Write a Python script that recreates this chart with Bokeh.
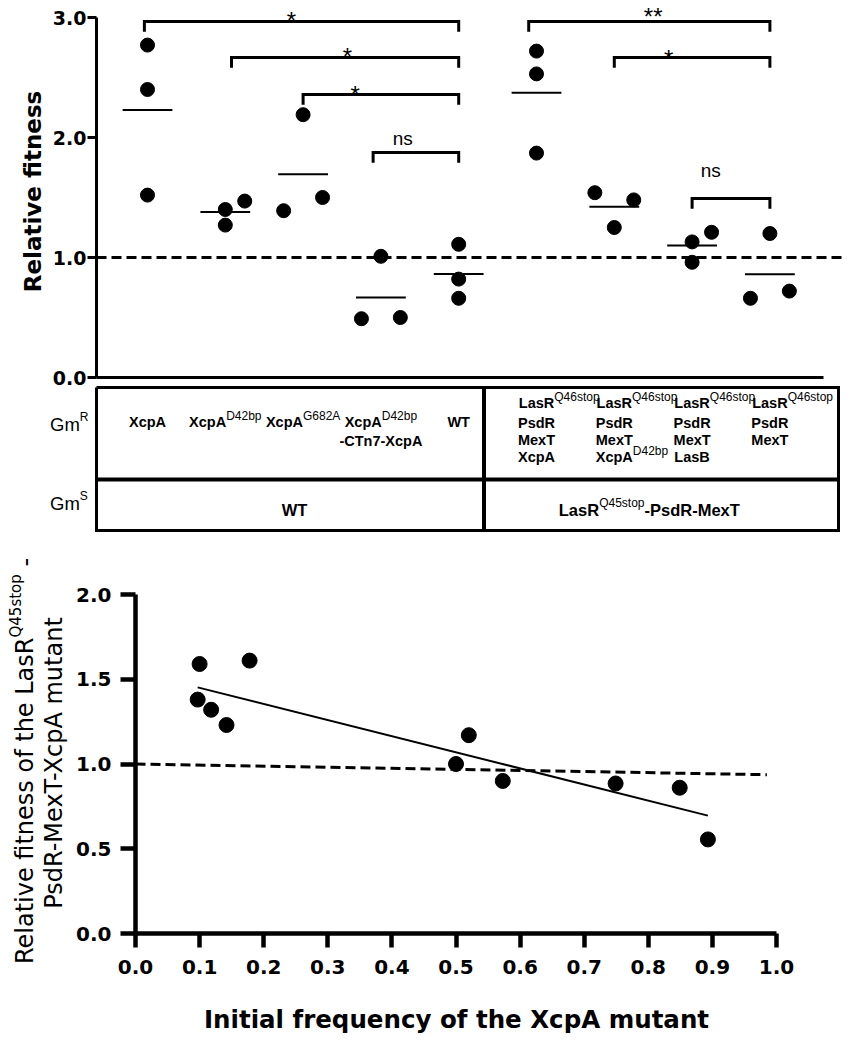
import numpy as np
from bokeh.plotting import figure
from bokeh.models import Range1d, LinearAxis, FixedTicker, NumeralTickFormatter
from bokeh.layouts import column
from bokeh.embed import file_html
from bokeh.resources import INLINE
from bokeh.core.properties import value

# ------------------------------------------------------------------
# Panel A data: relative fitness, three replicates per competition
# ------------------------------------------------------------------
group_ids = [1, 2, 3, 4, 5, 6, 7, 8, 9]
group_values = [
    [2.77, 2.40, 1.52],
    [1.40, 1.27, 1.47],
    [1.39, 2.19, 1.50],
    [0.49, 1.01, 0.50],
    [1.11, 0.82, 0.66],
    [2.72, 2.53, 1.87],
    [1.54, 1.25, 1.48],
    [1.13, 0.96, 1.21],
    [0.66, 1.20, 0.72],
]
# horizontal scatter offsets of the replicate dots (in group units)
group_jitter = [
    [0, 0, 0],
    [0, 0, 0.25],
    [-0.25, 0, 0.25],
    [-0.25, 0, 0.25],
    [0, 0, 0],
    [0, 0, 0],
    [-0.25, 0, 0.25],
    [0, 0, 0.25],
    [-0.25, 0, 0.25],
]
# significance brackets: (from, to, bracket level, label, label x, label baseline)
comparisons = [
    (0.96, 5.0, 2.967, "*", 2.85, 2.902),
    (2.08, 5.0, 2.667, "*", 3.57, 2.602),
    (3.00, 5.0, 2.358, "*", 3.67, 2.288),
    (3.90, 5.0, 1.875, "ns", 4.28, 1.933),
    (5.90, 9.0, 2.967, "**", 7.50, 2.935),
    (7.00, 9.0, 2.667, "*", 7.70, 2.593),
    (8.00, 9.0, 1.492, "ns", 8.24, 1.667),
]
y_ticks_A = [0, 1, 2, 3]
neutral_fitness = 1.0

# table under panel A ({...} marks a superscript)
gmr_left = [
    ["XcpA"],
    ["XcpA{D42bp}"],
    ["XcpA{G682A}"],
    ["XcpA{D42bp}", "-CTn7-XcpA"],
    ["WT"],
]
gmr_right = [
    ["LasR{Q46stop}", "PsdR", "MexT", "XcpA"],
    ["LasR{Q46stop}", "PsdR", "MexT", "XcpA{D42bp}"],
    ["LasR{Q46stop}", "PsdR", "MexT", "LasB"],
    ["LasR{Q46stop}", "PsdR", "MexT"],
]
gms_labels = ["WT", "LasR{Q45stop}-PsdR-MexT"]
gms_label_pos = [2.89, 7.45]
row_names = ["Gm{R}", "Gm{S}"]

# ------------------------------------------------------------------
# Panel B data
# ------------------------------------------------------------------
initial_freq = [0.097, 0.100, 0.118, 0.142, 0.178, 0.500, 0.520, 0.573, 0.749, 0.849, 0.893]
rel_fitness = [1.38, 1.59, 1.32, 1.23, 1.61, 1.00, 1.17, 0.90, 0.885, 0.86, 0.555]
null_x = [0.0, 0.985]
null_y = [1.0, 0.937]
x_ticks_B = [round(i * 0.1, 1) for i in range(11)]
y_ticks_B = [0.0, 0.5, 1.0, 1.5, 2.0]

# ------------------------------------------------------------------
# layout constants (pixels)
# ------------------------------------------------------------------
W = 851
A_H, B_H = 535, 506
PX_CAT, CAT1 = 77.8, 147.0          # panel A / table: pixels per group, x of group 1
A_ZERO, A_PX = 377.0, 120.0         # panel A: y pixel of 0, pixels per unit
B_X0, B_PXX = 135.0, 641.0          # panel B: x pixel of 0, pixels per unit
B_Y0, B_PXY = 933.0 - A_H, 169.5
MID = 0.346                          # baseline -> box middle, in em
FONT_AX = "DejaVu Sans"
FONT_TX = "Liberation Sans"


def cat(px):
    return 1 + (px - CAT1) / PX_CAT


def va(py):
    return (A_ZERO - py) / A_PX


def bx(px):
    return (px - B_X0) / B_PXX


def by(py):
    return (B_Y0 - (py - A_H)) / B_PXY


def make_fig(h, xr, yr):
    p = figure(width=W, height=h, x_range=Range1d(*xr), y_range=Range1d(*yr),
               x_axis_type=None, y_axis_type=None,
               output_backend="svg", toolbar_location=None, min_border=0)
    p.outline_line_color = None
    p.background_fill_color = "white"
    p.border_fill_color = "white"
    return p


def style_axis(ax, lw, tick_out, font_size, standoff):
    ax.axis_line_width = lw
    ax.axis_line_color = "black"
    ax.major_tick_line_width = lw
    ax.major_tick_line_color = "black"
    ax.major_tick_out = tick_out
    ax.major_tick_in = 0
    ax.minor_tick_line_color = None
    ax.minor_tick_out = 0
    ax.minor_tick_in = 0
    ax.major_label_text_font = FONT_AX
    ax.major_label_text_font_style = "bold"
    ax.major_label_text_font_size = font_size
    ax.major_label_text_color = "black"
    ax.major_label_standoff = standoff


def txt(p, xs, ys, texts, font, size, bold=False, align="left", angle=0.0):
    p.text(x=xs, y=ys, text=texts, angle=angle, text_font=value(font),
           text_font_size=value(f"{size}px"),
           text_font_style=value("bold" if bold else "normal"),
           text_align=value(align), text_baseline=value("middle"),
           text_color="black")


# ------------------------------------------------------------------
# Panel A (with the strain table below it)
# ------------------------------------------------------------------
pA = make_fig(A_H, (cat(0), cat(W)), (va(A_H), va(0)))
a_lo, a_hi = cat(96), cat(823)

yA = LinearAxis(ticker=FixedTicker(ticks=y_ticks_A), fixed_location=a_lo,
                formatter=NumeralTickFormatter(format="0.0"), bounds=(0, 3))
style_axis(yA, 3, 9, "19px", 1)
pA.add_layout(yA, "left")
xA = LinearAxis(ticker=FixedTicker(ticks=[]), fixed_location=0, bounds=(a_lo, a_hi))
style_axis(xA, 3, 0, "1px", 0)
pA.add_layout(xA, "below")

txt(pA, [cat(40 - MID * 23)], [va(191)], ["Relative fitness"], FONT_AX, 23,
    bold=True, align="center", angle=np.pi / 2)

pA.segment(x0=[a_lo], x1=[cat(845)], y0=[neutral_fitness], y1=[neutral_fitness],
           line_color="black", line_width=3, line_dash="10 5")

pts_x, pts_y = [], []
for g, vals, jit in zip(group_ids, group_values, group_jitter):
    for v, j in zip(vals, jit):
        pts_x.append(g + j)
        pts_y.append(v)
means = [float(np.mean(v)) for v in group_values]
pA.segment(x0=[g - 0.32 for g in group_ids], x1=[g + 0.32 for g in group_ids],
           y0=means, y1=means, line_color="black", line_width=2)
pA.scatter(pts_x, pts_y, size=14, color="black")

drop = 0.085
pA.multi_line(xs=[[a, a, b, b] for a, b, *_ in comparisons],
              ys=[[t - drop, t, t, t - drop] for _, _, t, *_ in comparisons],
              line_color="black", line_width=3, line_join="miter")
for is_ns, size in ((False, 24), (True, 19)):
    rows = [c for c in comparisons if (c[3] == "ns") == is_ns]
    txt(pA, [c[4] for c in rows], [c[5] + MID * size / A_PX for c in rows],
        [c[3] for c in rows], FONT_TX, size, align="center")

# ---- table ----
HB = {' ': 278, '-': 333, 'A': 722, 'B': 722, 'C': 722, 'D': 722, 'G': 778, 'L': 611,
      'M': 833, 'P': 667, 'Q': 778, 'R': 722, 'S': 667, 'T': 611, 'W': 944, 'X': 667,
      'a': 556, 'b': 611, 'c': 556, 'd': 611, 'e': 556, 'm': 889, 'n': 611, 'o': 611,
      'p': 611, 's': 556, 't': 333, 'x': 556}
HR = {' ': 278, '-': 333, 'A': 667, 'B': 667, 'C': 722, 'D': 722, 'G': 778, 'L': 556,
      'M': 833, 'P': 667, 'Q': 778, 'R': 722, 'S': 667, 'T': 611, 'W': 944, 'X': 667,
      'a': 556, 'b': 556, 'c': 500, 'd': 556, 'e': 556, 'm': 833, 'n': 556, 'o': 556,
      'p': 556, 's': 500, 't': 278, 'x': 500}
for d in (HB, HR):
    for ch in "0123456789":
        d[ch] = 556


def tw(s, size, bold):
    tab = HB if bold else HR
    return sum(tab.get(c, 556) for c in s) / 1000.0 * size


def parse(s):
    segs, buf = [], ""
    for ch in s:
        if ch == "{":
            if buf:
                segs.append((buf, False))
            buf = ""
        elif ch == "}":
            segs.append((buf, True))
            buf = ""
        else:
            buf += ch
    if buf:
        segs.append((buf, False))
    return segs


buckets = {}


def place(text, x, base_py, mode, size, bold, sup_size=12, sup_raise=7):
    segs = parse(text)
    widths = [tw(t, sup_size if s else size, (not s) and bold) for t, s in segs]
    total = sum(widths)
    if mode == "center":
        xpx = -total / 2
    elif mode == "base":
        xpx = -widths[0] / 2
    else:
        xpx = -widths[0]
    for (t, s), w in zip(segs, widths):
        fs = sup_size if s else size
        key = (sup_size, False) if s else (size, bold)
        b = buckets.setdefault(key, ([], [], []))
        b[0].append(x + xpx / PX_CAT)
        b[1].append(va(base_py - (sup_raise if s else 0) - MID * fs))
        b[2].append(t)
        xpx += w


box_l, box_r, box_div = cat(96), cat(838), cat(483.5)
row_top, row_mid, row_bot = va(387), va(479), va(530)
pA.multi_line(xs=[[box_l, box_r, box_r, box_l, box_l]],
              ys=[[row_top, row_top, row_bot, row_bot, row_top]],
              line_color="black", line_width=3, line_join="miter")
pA.segment(x0=[box_l, box_div], x1=[box_r, box_div], y0=[row_mid, row_top],
           y1=[row_mid, row_bot], line_color="black", line_width=4)

left_rows = [427, 446]
right_rows = [408, 427.5, 445, 462]
for g, lines in zip(group_ids[:5], gmr_left):
    for ln, yy in zip(lines, left_rows):
        place(ln, g, yy, "center", 14.5, True)
for g, lines in zip(group_ids[5:], gmr_right):
    for ln, yy in zip(lines, right_rows):
        place(ln, g, yy, "base", 14.5, True)
for lab, pos in zip(gms_labels, gms_label_pos):
    place(lab, pos, 515, "center", 16.5, True, sup_raise=8)
for lab, yy in zip(row_names, [430, 509]):
    place(lab, cat(79.3), yy, "junction", 18.5, False, sup_raise=9.5)

for (size, bold), (xs, ys, ts) in buckets.items():
    txt(pA, xs, ys, ts, FONT_TX, size, bold=bold)

# ------------------------------------------------------------------
# Panel B
# ------------------------------------------------------------------
pB = make_fig(B_H, (bx(0), bx(W)), (by(A_H + B_H), by(A_H)))

xB = LinearAxis(ticker=FixedTicker(ticks=x_ticks_B), fixed_location=0,
                formatter=NumeralTickFormatter(format="0.0"), bounds=(0, 1))
style_axis(xB, 4.5, 14, "20px", 12)
pB.add_layout(xB, "below")
yB = LinearAxis(ticker=FixedTicker(ticks=y_ticks_B), fixed_location=0,
                formatter=NumeralTickFormatter(format="0.0"), bounds=(0, 2))
style_axis(yB, 4.5, 15, "20px", 9)
pB.add_layout(yB, "left")

pB.line(null_x, null_y, line_color="black", line_width=3, line_dash="10 5")
fx = np.array(initial_freq)
slope, intercept = np.polyfit(fx, np.array(rel_fitness), 1)
fit_x = np.array([fx.min(), fx.max()])
pB.line(fit_x, slope * fit_x + intercept, line_color="black", line_width=2)
pB.scatter(initial_freq, rel_fitness, size=15, color="black")

txt(pB, [bx(456)], [by(1027 - MID * 24.5)], ["Initial frequency of the XcpA mutant"],
    FONT_AX, 24.5, bold=True, align="center")

ylab = [  # (text, baseline x, y, align, size)
    ("Relative fitness of the LasR", 33, 637, "right", 24),
    ("Q45stop", 21, 637, "left", 15),
    ("-", 33, 566, "left", 24),
    ("PsdR-MexT-XcpA mutant", 62, 762.5, "center", 24),
]
for t, px, py, al, sz in ylab:
    txt(pB, [bx(px - MID * sz)], [by(py)], [t], FONT_AX, sz, align=al, angle=np.pi / 2)

layout = column(pA, pB)
open("out.html", "w").write(file_html(layout, INLINE))
